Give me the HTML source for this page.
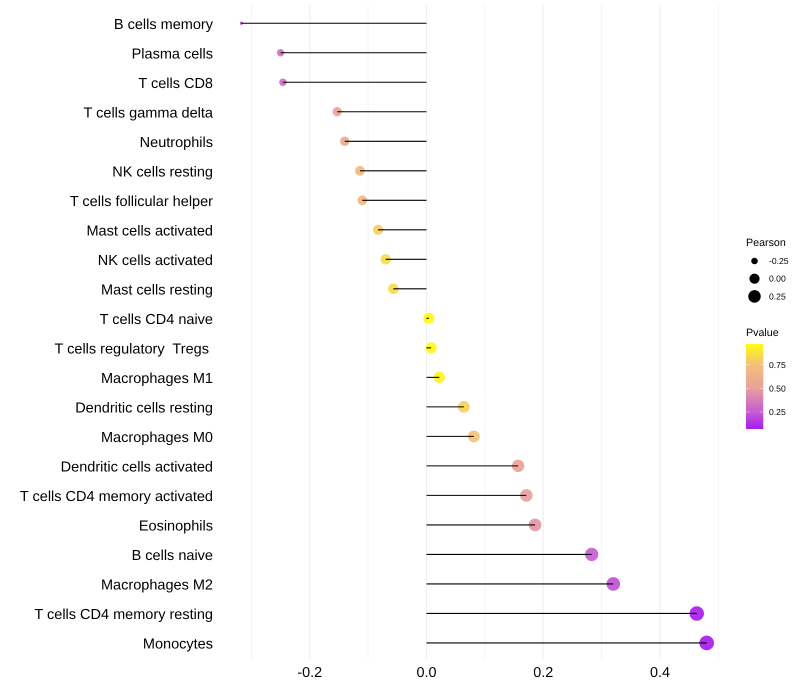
<!DOCTYPE html>
<html>
<head>
<meta charset="utf-8">
<title>Lollipop chart of immune cell correlation</title>
<style>
html,body{margin:0;padding:0;background:#fff;}
svg{display:block;font-family:"Liberation Sans",sans-serif;}
text{white-space:pre;text-rendering:geometricPrecision;}
</style>
</head>
<body>
<svg id="chart" xmlns="http://www.w3.org/2000/svg" width="800" height="700" viewBox="0 0 800 700">
<defs>
<linearGradient id="pvalue-gradient" x1="0" y1="1" x2="0" y2="0">
<stop offset="0" stop-color="#A61CEE"/>
<stop offset="0.2" stop-color="#C65CD0"/>
<stop offset="0.48" stop-color="#E8A09C"/>
<stop offset="0.756" stop-color="#F4C078"/>
<stop offset="1" stop-color="#FFFC10"/>
</linearGradient>
</defs>
</svg>
<script>
const categories = ["B cells memory","Plasma cells","T cells CD8","T cells gamma delta","Neutrophils","NK cells resting","T cells follicular helper","Mast cells activated","NK cells activated","Mast cells resting","T cells CD4 naive","T cells regulatory  Tregs ","Macrophages M1","Dendritic cells resting","Macrophages M0","Dendritic cells activated","T cells CD4 memory activated","Eosinophils","B cells naive","Macrophages M2","T cells CD4 memory resting","Monocytes"];
const pearson = [-0.317,-0.25,-0.246,-0.153,-0.14,-0.114,-0.11,-0.083,-0.07,-0.057,0.004,0.008,0.022,0.064,0.081,0.157,0.171,0.186,0.283,0.32,0.463,0.48];
const pvalue = [0.2,0.33,0.32,0.53,0.58,0.7,0.7,0.8,0.85,0.85,0.97,0.96,0.93,0.82,0.76,0.53,0.5,0.47,0.26,0.22,0.08,0.07];
const majorTicks = [-0.2,0,0.2,0.4];
const minorTicks = [-0.3,-0.1,0.1,0.3,0.5];
const tickLabels = ["-0.2","0.0","0.2","0.4"];
const sizeLegendValues = [-0.25,0,0.25];
const sizeLegendLabels = ["-0.25","0.00","0.25"];
const colorLegendValues = [0.25,0.5,0.75];
const colorLegendLabels = ["0.25","0.50","0.75"];

const svg = document.getElementById('chart');
const NS = 'http://www.w3.org/2000/svg';
function make(tag, attrs, parent) {
  const el = document.createElementNS(NS, tag);
  for (const k in attrs) el.setAttribute(k, attrs[k]);
  (parent || svg).appendChild(el);
  return el;
}
const xZero = 426.5, xPerUnit = 583.7;
const yFirst = 23.24, yStep = 29.51;
function xScale(v) { return xZero + v * xPerUnit; }
function yScale(i) { return yFirst + i * yStep; }
const pearsonMin = Math.min(...pearson), pearsonMax = Math.max(...pearson);
function sizeT(v) { return Math.max(0, (v - pearsonMin) / (pearsonMax - pearsonMin)); }
function rScale(v) { return 1.6 + 5.7 * Math.pow(sizeT(v), 0.4); }
function rLegend(v) { return 1.7 + 5.4 * Math.sqrt(sizeT(v)); }
const colorStops = [[0,[166,28,238]],[0.2,[198,92,208]],[0.48,[232,160,156]],[0.756,[244,192,120]],[1,[255,252,16]]];
const pLow = 0.07, pHigh = 0.97;
function colorScale(p) {
  const t = Math.min(1, Math.max(0, (p - pLow) / (pHigh - pLow)));
  for (let i = 1; i < colorStops.length; i++) {
    if (t <= colorStops[i][0]) {
      const a = colorStops[i-1], b = colorStops[i];
      const f = (t - a[0]) / (b[0] - a[0]);
      const c = a[1].map((v, j) => Math.round(v + (b[1][j] - v) * f));
      return 'rgb(' + c.join(',') + ')';
    }
  }
  return 'rgb(255,252,16)';
}
const legendBarTop = 344, legendBarBottom = 429;
function pLegendY(p) { return legendBarBottom - (p - pLow) / (pHigh - pLow) * (legendBarBottom - legendBarTop); }

minorTicks.forEach(function (v) {
  const g = make('line', {x1:xScale(v), x2:xScale(v), y1:5, y2:659, stroke:'#f4f4f4', 'stroke-width':1});
  
  
});
majorTicks.forEach(function (v, i) {
  const g = make('line', {x1:xScale(v), x2:xScale(v), y1:5, y2:659, stroke:'#eeeeee', 'stroke-width':1});
  
  
  const t = make('text', {x:xScale(v), y:677, 'text-anchor':'middle', 'font-size':14.4, fill:'#000'});
  t.textContent = tickLabels[i];
  
  
});

categories.forEach(function (name, i) {
  const y = yScale(i);
  const label = make('text', {x:213, y:y + 5.75, 'text-anchor':'end', 'font-size':14.5, fill:'#000'});
  label.textContent = name;
  
  
  const dot = make('circle', {cx:xScale(pearson[i]), cy:y, r:rScale(pearson[i]), fill:colorScale(pvalue[i]), 'fill-opacity':0.92});
  
  
  const stem = make('line', {x1:xZero, x2:xScale(pearson[i]), y1:y, y2:y, stroke:'#000', 'stroke-width':1.07});
  
  
});

const sizeTitle = make('text', {x:746, y:246, 'font-size':10.7, fill:'#000'});
sizeTitle.textContent = 'Pearson';


sizeLegendValues.forEach(function (v, i) {
  const y = 261 + i * 17.7;
  const key = make('circle', {cx:754.5, cy:y, r:rLegend(v), fill:'#000'});
  
  
  const t = make('text', {x:769, y:y + 3, 'font-size':8.6, fill:'#000'});
  t.textContent = sizeLegendLabels[i];
  
  
});

const colorTitle = make('text', {x:746, y:336, 'font-size':10.7, fill:'#000'});
colorTitle.textContent = 'Pvalue';


const bar = make('rect', {x:746, y:legendBarTop, width:17.3, height:legendBarBottom - legendBarTop, fill:'url(#pvalue-gradient)'});


colorLegendValues.forEach(function (v, i) {
  const y = pLegendY(v);
  const t1 = make('line', {x1:746, x2:749.5, y1:y, y2:y, stroke:'#fff', 'stroke-width':0.6, 'stroke-opacity':0.7});
  
  
  const t2 = make('line', {x1:759.8, x2:763.3, y1:y, y2:y, stroke:'#fff', 'stroke-width':0.6, 'stroke-opacity':0.7});
  
  
  const t = make('text', {x:769, y:y + 3, 'font-size':8.6, fill:'#000'});
  t.textContent = colorLegendLabels[i];
  
  
});
</script>
</body>
</html>
